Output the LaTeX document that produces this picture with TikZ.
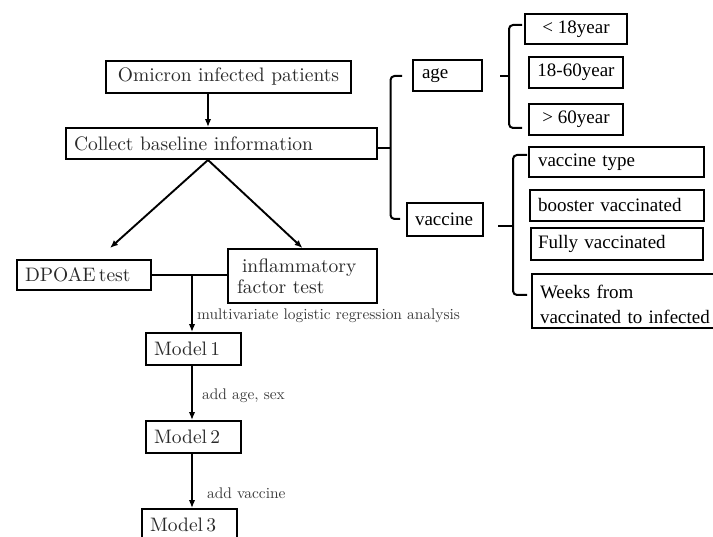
\documentclass[tikz,border=0pt]{standalone}
\usepackage{fontspec}
\newfontfamily\timesf{Liberation Serif}
\newfontfamily\palf{lmroman10-regular.otf}
\usetikzlibrary{arrows.meta}
\definecolor{txtgray}{HTML}{2A2A2A}
\definecolor{lblgray}{HTML}{3A3A3A}
\tikzset{
  box/.style={draw, line width=1.9pt, rectangle, inner ysep=0pt, minimum height=#1},
  lbox/.style={font=\palf\fontsize{19.5}{22}\selectfont, text=txtgray},
  rbox/.style={font=\timesf\fontsize{19}{25}\selectfont, text=black},
  lbl/.style={font=\palf\fontsize{15.4}{17}\selectfont, text=lblgray, anchor=west, inner sep=0pt},
  arr/.style={line width=1.9pt, -{Latex[length=8pt,width=6.5pt]}},
  ln/.style={line width=1.9pt},
  brace/.style={line width=2pt, rounded corners=4pt},
}
\begin{document}
\begin{tikzpicture}[x=1pt,y=-1pt]
\useasboundingbox (0,0) rectangle (713,537);
% left column
\node[box=32, lbox, minimum width=245, align=center] (omi) at (228.5,77) {Omicron infected patients};
\node[box=31, lbox, inner xsep=8pt, text width=295pt, align=left] (col) at (221.5,143.5) {Collect baseline information};
\node[box=30, lbox, inner xsep=8pt, text width=118pt, align=left] (dpoae) at (84,275) {DPOAE\,test};
\node[box=54, lbox, inner xsep=9pt, text width=131pt, align=left, font=\palf\fontsize{19.5}{21.5}\selectfont] (infl) at (302.5,276) {\hspace{5pt}inflammatory\\factor test};
\node[box=32, lbox, inner xsep=8pt, text width=79pt, align=left] (m1) at (193.5,349) {Model\,1};
\node[box=32, lbox, inner xsep=8pt, text width=79pt, align=left] (m2) at (193.5,437) {Model\,2};
\node[box=32, lbox, inner xsep=8pt, text width=79pt, align=left] (m3) at (189.5,525) {Model\,3};
% right side
\node[box=31, rbox, inner xsep=9pt, text width=51pt, align=left] (age) at (447.5,75.5) {age};
\node[box=33, rbox, inner xsep=8pt, text width=60pt, align=left] (vac) at (445,219.5) {vaccine};
\node[box=30, rbox, minimum width=102, align=center] (lt) at (576,29) {< 18year};
\node[box=31, rbox, minimum width=94, align=center] (mid) at (576,72.5) {18-60year};
\node[box=31, rbox, minimum width=94, align=center] (gt) at (576,119.5) {> 60year};
\node[box=30, rbox, inner xsep=9pt, text width=157pt, align=left] (vt) at (616.5,162) {vaccine type};
\node[box=31, rbox, inner xsep=8pt, text width=158pt, align=left] (bv) at (617,205.5) {booster vaccinated};
\node[box=32, rbox, inner xsep=7pt, text width=158pt, align=left] (fv) at (617,244) {Fully vaccinated};
\node[box=54, rbox, inner xsep=8pt, text width=170pt, align=left] (wk) at (625,301) {\rule{0pt}{20pt}Weeks from\\vaccinated to infected};
% connectors
\coordinate (apex) at (208,160);
\coordinate (ltip) at (110,248);
\draw[arr] (208,0 |- omi.south) -- (208,0 |- col.north);
\draw[arr] (apex) -- (ltip);
\draw[arr] (apex) -- (infl.north);
\draw[ln] (dpoae.east) -- (dpoae.east -| infl.west);
\draw[arr] (192,0 |- dpoae.east) -- (192,0 |- m1.north);
\draw[arr] (192,0 |- m1.south) -- (192,0 |- m2.north);
\draw[arr] (192,0 |- m2.south) -- (192,0 |- m3.north);
\node[lbl] (l1) at (197,316) {multivariate logistic regression analysis};
\node[lbl] (l2) at (202,396) {add age, sex};
\node[lbl] (l3) at (207,493) {add vaccine};
% braces
\coordinate (bt) at (402,76);
\coordinate (bb) at (400,219);
\draw[brace] (bt) -- (390.5,76) -- (390.5,219) -- (bb);
\draw[ln] (col.east |- 0,148) -- (390.5,148);
\coordinate (at) at (522,25);
\coordinate (ab) at (522,128);
\coordinate (ak) at (500,76);
\draw[brace] (at) -- (509,25) -- (509,128) -- (ab);
\draw[ln] (ak) -- (509,76);
\coordinate (vt1) at (527,155);
\coordinate (vb1) at (527,295);
\coordinate (vk) at (498,226);
\draw[brace] (vt1) -- (513,155) -- (513,295) -- (vb1);
\draw[ln] (vk) -- (513,226);
\end{tikzpicture}
\end{document}
